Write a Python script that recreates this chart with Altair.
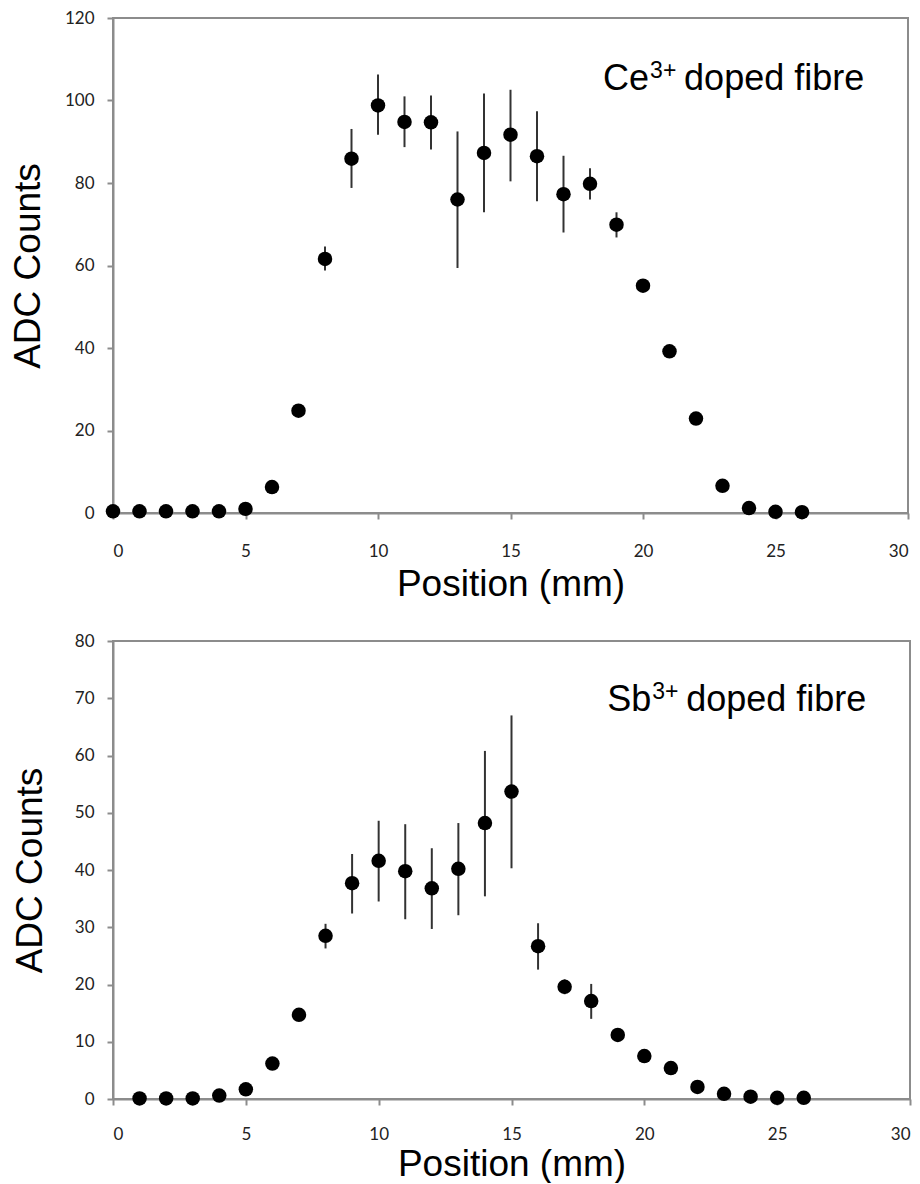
import altair as alt
import pandas as pd

# ---- Ce3+ doped fibre (top panel) ----
ce_pos = list(range(0, 27))
ce_adc = [0.4, 0.4, 0.4, 0.4, 0.4, 1.0, 6.3, 24.8, 61.6, 85.9, 98.8, 94.8, 94.7,
          76.0, 87.3, 91.7, 86.5, 77.3, 79.8, 69.9, 55.1, 39.2, 22.9, 6.6, 1.2, 0.3, 0.2]
ce_hi = [None] * 8 + [64.6, 93.1, 106.3, 101.0, 101.2, 92.5, 101.7, 102.6, 97.4, 86.6, 83.6, 72.9] + [None] * 7
ce_lo = [None] * 8 + [58.8, 78.8, 91.7, 88.7, 88.1, 59.4, 72.9, 80.4, 75.6, 68.0, 76.0, 66.8] + [None] * 7

# ---- Sb3+ doped fibre (bottom panel) ----
sb_pos = list(range(1, 27))
sb_adc = [0.1, 0.1, 0.1, 0.6, 1.7, 6.2, 14.7, 28.5, 37.7, 41.6, 39.8, 36.8, 40.2,
          48.2, 53.7, 26.7, 19.6, 17.1, 11.2, 7.5, 5.4, 2.1, 0.9, 0.4, 0.2, 0.2]
sb_hi = [None] * 7 + [30.6, 42.8, 48.6, 48.0, 43.8, 48.2, 60.8, 67.0, 30.7, 20.9, 20.1] + [None] * 8
sb_lo = [None] * 7 + [26.3, 32.4, 34.5, 31.4, 29.7, 32.1, 35.4, 40.3, 22.6, 18.3, 14.0] + [None] * 8

x_ticks = [0, 5, 10, 15, 20, 25, 30]
ce_y_ticks = [0, 20, 40, 60, 80, 100, 120]
sb_y_ticks = [0, 10, 20, 30, 40, 50, 60, 70, 80]

ce_label = ["Ce", "3+", "doped fibre"]
sb_label = ["Sb", "3+", "doped fibre"]
ce_label_anchor = (20.23, 102.5)
sb_label_anchor = (20.26, 67.8)

GRAY = "#8c8c8c"
TITLE_FONT = "Liberation Sans"


def panel(pos, adc, lo, hi, ymax, yticks, width, height, label, anchor,
          x_lab_pad, x_title_pad, y_title_pad):
    df = pd.DataFrame({"pos": pos, "adc": adc, "lo": lo, "hi": hi})
    xs = alt.Scale(domain=[0, 30], nice=False, zero=False)
    ys = alt.Scale(domain=[0, ymax], nice=False)
    xax = alt.Axis(values=x_ticks, title="Position (mm)", labelPadding=x_lab_pad,
                   titlePadding=x_title_pad, grid=False)
    yax = alt.Axis(values=yticks, title="ADC Counts", titlePadding=y_title_pad, grid=False)

    base = alt.Chart(df)
    err = base.transform_filter("datum.lo != null").mark_rule(
        color="#333333", strokeWidth=2
    ).encode(
        x=alt.X("pos:Q", scale=xs, axis=xax),
        y=alt.Y("lo:Q", scale=ys, axis=yax),
        y2=alt.Y2("hi:Q"),
    )
    pts = base.mark_circle(size=210, color="black", opacity=1).encode(
        x=alt.X("pos:Q", scale=xs, axis=xax),
        y=alt.Y("adc:Q", scale=ys, axis=yax),
    )
    one = alt.Chart(pd.DataFrame({"a": [0]}))
    ax, ay = anchor
    t1 = one.mark_text(text=label[0], align="right", baseline="alphabetic",
                       font=TITLE_FONT, fontSize=36, color="black").encode(
        x=alt.datum(ax), y=alt.datum(ay))
    t2 = one.mark_text(text=label[1], align="left", baseline="alphabetic", dx=1, dy=-12,
                       font=TITLE_FONT, fontSize=23, color="black").encode(
        x=alt.datum(ax), y=alt.datum(ay))
    t3 = one.mark_text(text=label[2], align="left", baseline="alphabetic", dx=35,
                       font=TITLE_FONT, fontSize=36, color="black").encode(
        x=alt.datum(ax), y=alt.datum(ay))
    return alt.layer(err, pts, t1, t2, t3).properties(width=width, height=height)


top = panel(ce_pos, ce_adc, ce_lo, ce_hi, 120, ce_y_ticks, 795, 495,
            ce_label, ce_label_anchor, 24, 7, 17)
bottom = panel(sb_pos, sb_adc, sb_lo, sb_hi, 80, sb_y_ticks, 797, 458,
               sb_label, sb_label_anchor, 21, 4, 25)

chart = alt.vconcat(top, bottom, spacing=28).properties(
    padding=0, background="white"
).configure_view(
    stroke=GRAY, strokeWidth=2
).configure_axis(
    domainColor=GRAY, domainWidth=2, tickColor=GRAY, tickWidth=2, tickSize=6,
    labelFont="Lato", labelFontSize=17, labelColor="#222222", labelPadding=13,
    titleFont=TITLE_FONT, titleFontSize=37, titleFontWeight="normal", titleColor="black",
)

chart.save("out.html", embed_options={"renderer": "svg", "actions": False})
